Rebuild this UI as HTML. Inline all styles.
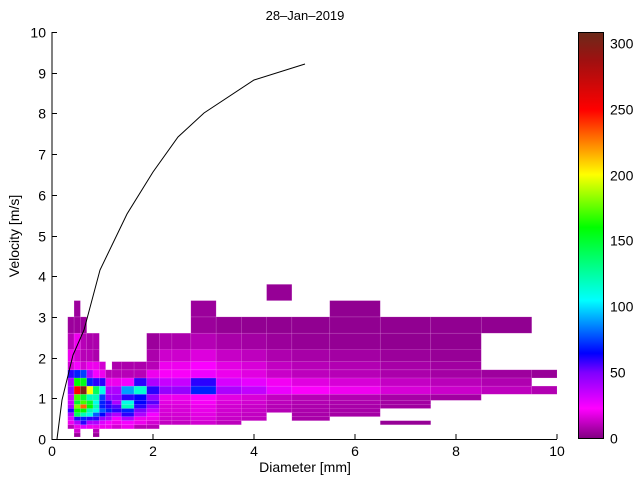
<!DOCTYPE html>
<html><head><meta charset="utf-8"><style>
body{margin:0;background:#fff;}
svg text{font-family:"Liberation Sans",sans-serif;font-size:14px;fill:#000;}
</style></head><body>
<svg id="s" width="640" height="480" xmlns="http://www.w3.org/2000/svg">
<defs>
<linearGradient id="cb" x1="0" y1="1" x2="0" y2="0">
<stop offset="0" stop-color="#800080"/>
<stop offset="0.074" stop-color="#ff00ff"/>
<stop offset="0.162" stop-color="#8000ff"/>
<stop offset="0.21" stop-color="#0000ff"/>
<stop offset="0.34" stop-color="#00ffff"/>
<stop offset="0.52" stop-color="#00ff00"/>
<stop offset="0.65" stop-color="#ffff00"/>
<stop offset="0.81" stop-color="#ff0000"/>
<stop offset="0.93" stop-color="#a01010"/>
<stop offset="1" stop-color="#6b2a1a"/>
</linearGradient>
</defs>
<g id="cells"></g>
<polyline fill="none" stroke="#000" stroke-width="1" points="57,439 62,400 73,355 84,330 100,270 127,214 153,172 178,137 204,113 254,80 305,64"/>
<g stroke="#000" stroke-width="1" id="axes">
<line x1="52" y1="32" x2="52" y2="439.5"/>
<line x1="51.5" y1="439.5" x2="557" y2="439.5"/>
</g>
<g id="lbl"></g>
<text x="305" y="20" text-anchor="middle" style="font-size:13px">28–Jan–2019</text>
<text x="305" y="472" text-anchor="middle">Diameter [mm]</text>
<text x="19" y="236" text-anchor="middle" transform="rotate(-90 19 236)">Velocity [m/s]</text>
<rect x="578.5" y="32.5" width="25" height="406" fill="url(#cb)" stroke="#000" stroke-width="1"/>
</svg>
<script>
var NS="http://www.w3.org/2000/svg",S=document.getElementById('s');
function X(d){return 52+50.5*d;}function Y(v){return 439-40.7*v;}
var De=[0.062,0.187,0.312,0.437,0.562,0.687,0.812,0.937,1.062,1.187,1.375,1.625,1.875,2.125,2.375,2.75,3.25,3.75,4.25,4.75,5.5,6.5,7.5,8.5,9.5,10];
var Ve=[0.05,0.15,0.25,0.35,0.45,0.55,0.65,0.75,0.85,0.95,1.1,1.3,1.5,1.7,1.9,2.2,2.6,3.0,3.4,3.8,4.4];
var st=[[0,[128,0,128]],[23,[255,0,255]],[50,[128,0,255]],[65,[0,0,255]],[105,[0,255,255]],[160,[0,255,0]],[200,[255,255,0]],[250,[255,0,0]],[287,[160,16,16]],[308,[107,42,26]]];
function col(v){for(var k=1;k<st.length;k++){if(v<=st[k][0]){var a=st[k-1],b=st[k],t=(v-a[0])/(b[0]-a[0]);return 'rgb('+[0,1,2].map(function(c){return Math.round(a[1][c]+t*(b[1][c]-a[1][c]));}).join(',')+')';}}return 'rgb(107,42,26)';}
var g=document.getElementById('cells');
function cell(i,j,v){var r=document.createElementNS(NS,'rect');var x0=X(De[i]),x1=X(De[i+1]),y0=Y(Ve[j+1]),y1=Y(Ve[j]);r.setAttribute('x',x0);r.setAttribute('y',y0);r.setAttribute('width',x1-x0);r.setAttribute('height',y1-y0);r.setAttribute('fill',col(v));r.setAttribute('stroke','rgba(255,200,255,0.18)');r.setAttribute('stroke-width','0.6');g.appendChild(r);}
var L={2:[2,[10,20,30,40,60,40,35,35,45,40,60,15,20,10,5]],
3:[0,[5,15,20,40,60,140,160,180,150,170,250,160,70,25,15,20,5,5]],
4:[2,[30,60,70,120,160,230,170,150,300,155,75,15,10,10,5]],
5:[2,[20,40,60,110,120,160,150,120,200,70,40,20,10,8]],
6:[0,[5,10,20,40,60,80,110,120,110,120,140,60,25,20,8,8]],
7:[2,[20,30,45,65,80,70,70,75,110,60,20,15]],
8:[2,[20,25,40,50,70,60,60,45,40,20,10]],
9:[2,[15,20,25,40,60,55,40,45,40,20,10,8]],
10:[2,[20,25,40,60,70,120,110,60,90,25,10,8]],
11:[2,[10,20,20,40,50,60,65,65,115,60,10,8]],
12:[2,[10,15,20,25,35,45,55,45,60,40,20,10,8,5]]};
for(var i in L){var a=L[i];for(var k=0;k<a[1].length;k++)cell(+i,a[0]+k,a[1][k]);}
var B={2:10,3:12,4:14,5:15,6:16,7:16,8:18,9:20,10:45,11:35,12:22,13:20,14:14,15:8,16:4,17:4,18:4};
var F={13:1,14:1,15:1.2,16:0.9,17:0.8,18:0.6,19:0.5,20:0.45,21:0.35,22:0.3,23:0.25,24:0.2};
var R={13:[3,15],14:[3,15],15:[3,17],16:[3,16],17:[4,16],18:[6,16],19:[4,16],20:[5,17],21:[7,16],22:[9,16]};
function cv(i,j){if(i==15&&j==10)return 70;if(i==15&&j==11)return 60;return Math.max(3,B[j]*F[i]);}
for(var i in R){for(var j=R[i][0];j<=R[i][1];j++)cell(+i,j,cv(+i,j));}
cell(18,18,4);cell(21,3,4);
[10,11,12,16].forEach(function(j){cell(23,j,cv(23,j));});
[10,12].forEach(function(j){cell(24,j,cv(24,j));});
var ax=document.getElementById('axes'),lb=document.getElementById('lbl');
function ln(x1,y1,x2,y2){var l=document.createElementNS(NS,'line');l.setAttribute('x1',x1);l.setAttribute('y1',y1);l.setAttribute('x2',x2);l.setAttribute('y2',y2);ax.appendChild(l);}
function tx(x,y,s,anc){var t=document.createElementNS(NS,'text');t.setAttribute('x',x);t.setAttribute('y',y);t.setAttribute('text-anchor',anc);t.textContent=s;lb.appendChild(t);}
for(var k=0;k<=5;k++){var x=X(2*k);ln(x,439,x,434);tx(x,456,String(2*k),'middle');}
for(var k=0;k<=10;k++){var y=Math.round(Y(k))+0.5;ln(52,y,57,y);tx(46,y+5,String(k),'end');}
for(var k=0;k<=6;k++){var y=Math.round(438-k*50*1.317)+0.5;ln(578,y,582,y);ln(600,y,604,y);tx(610,y+5,String(k*50),'start');}
</script>
</body></html>
